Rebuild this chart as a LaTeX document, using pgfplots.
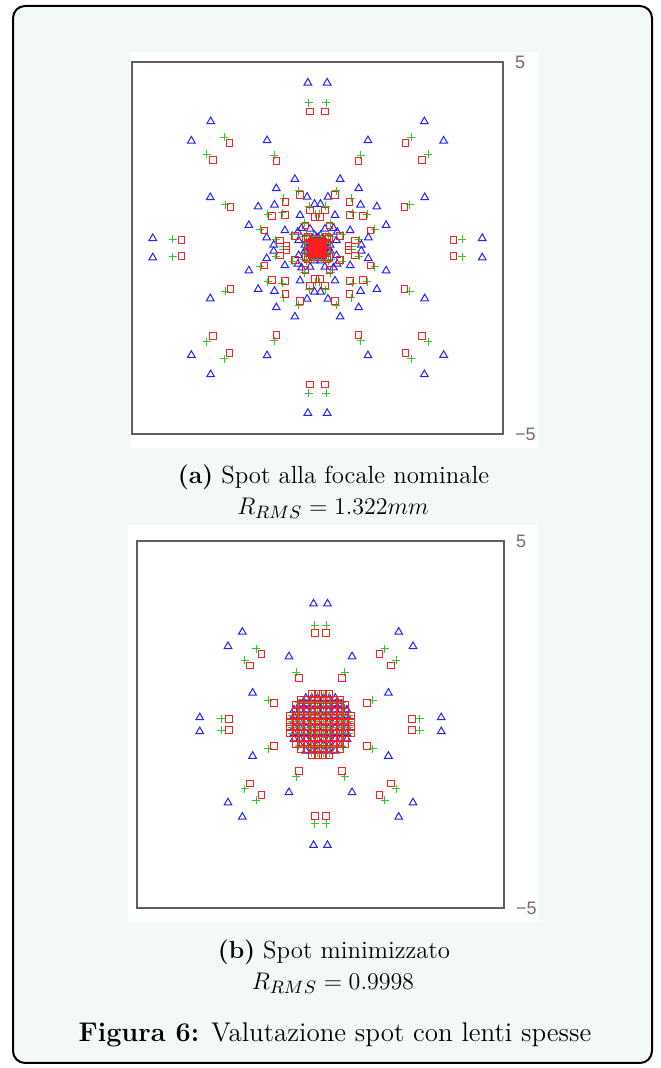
\documentclass[border=0pt]{standalone}
\usepackage{fontspec}
\usepackage{pgfplots}
\pgfplotsset{compat=1.18}
\newfontfamily\ticksf{Liberation Sans}
\definecolor{bgc}{RGB}{243,249,249}
\definecolor{mblue}{RGB}{35,35,255}
\definecolor{mgreen}{RGB}{40,205,40}
\definecolor{mred}{RGB}{255,30,30}
\definecolor{axgray}{RGB}{95,95,95}
\definecolor{tickgray}{RGB}{110,110,110}
\pgfplotsset{
  spot/.style={scale only axis, xmin=-5, xmax=5, ymin=-5, ymax=5,
    xtick=\empty, ytick={-5,5}, yticklabels={−5,5}, yticklabel pos=right,
    major tick length=0pt, axis line style={axgray, line width=0.6pt},
    yticklabel style={font=\ticksf\fontsize{9}{10}\selectfont, text=tickgray, xshift=2.5pt},
    clip=false},
  bl/.style={only marks, mark=triangle, mark size=2.2pt, mark options={mblue, line width=0.5pt}},
  gr/.style={only marks, mark=+, mark size=2.0pt, mark options={mgreen, line width=0.5pt}},
  rd/.style={only marks, mark=square, mark size=1.65pt, mark options={mred, line width=0.5pt}},
  rdf/.style={only marks, mark=square*, mark size=1.65pt, mark options={mred, fill=mred, line width=0.5pt}}
}
\begin{document}
\begin{tikzpicture}
\path[use as bounding box] (0,0) rectangle (330pt,534pt);
\fill[white] (0,0) rectangle (330pt,534pt);
\draw[line width=1pt, rounded corners=6pt, fill=bgc] (6.5pt,2.5pt) rectangle (326pt,531pt);
\fill[white] (65pt,310pt) rectangle (269pt,508pt);
\fill[white] (64pt,73pt) rectangle (269pt,271.5pt);

% ---------------- (a) nominal focus ----------------
\begin{axis}[spot, at={(66pt,317pt)}, anchor=south west, width=185.5pt, height=186pt]
\addplot[bl] coordinates {
(0.26,4.44) (-0.26,4.44) (0.26,-4.44) (-0.26,-4.44) (4.44,0.26) (-4.44,0.26) (4.44,-0.26) (-4.44,-0.26)
(2.88,3.40) (-2.88,3.40) (2.88,-3.40) (-2.88,-3.40) (3.40,2.88) (-3.40,2.88) (3.40,-2.88) (-3.40,-2.88)
(1.36,2.89) (-1.36,2.89) (1.36,-2.89) (-1.36,-2.89) (2.89,1.36) (-2.89,1.36) (2.89,-1.36) (-2.89,-1.36)
(0.61,1.85) (-0.61,1.85) (0.61,-1.85) (-0.61,-1.85) (1.85,0.61) (-1.85,0.61) (1.85,-0.61) (-1.85,-0.61)
(1.11,1.60) (-1.11,1.60) (1.11,-1.60) (-1.11,-1.60) (1.60,1.11) (-1.60,1.11) (1.60,-1.11) (-1.60,-1.11)
(0.28,1.37) (-0.28,1.37) (0.28,-1.37) (-0.28,-1.37) (1.37,0.28) (-1.37,0.28) (1.37,-0.28) (-1.37,-0.28)
(0.08,1.18) (-0.08,1.18) (0.08,-1.18) (-0.08,-1.18) (1.18,0.08) (-1.18,0.08) (1.18,-0.08) (-1.18,-0.08)
(0.47,0.88) (-0.47,0.88) (0.47,-0.88) (-0.47,-0.88) (0.88,0.47) (-0.88,0.47) (0.88,-0.47) (-0.88,-0.47)
(1.16,1.16) (-1.16,1.16) (1.16,-1.16) (-1.16,-1.16)
(0.02,0.28) (-0.02,0.28) (0.02,-0.28) (-0.02,-0.28) (0.28,0.02) (-0.28,0.02) (0.28,-0.02) (-0.28,-0.02)
(0.08,0.34) (-0.08,0.34) (0.08,-0.34) (-0.08,-0.34) (0.34,0.08) (-0.34,0.08) (0.34,-0.08) (-0.34,-0.08)
(0.20,0.51) (-0.20,0.51) (0.20,-0.51) (-0.20,-0.51) (0.51,0.20) (-0.51,0.20) (0.51,-0.20) (-0.51,-0.20)
(0.15,0.23) (-0.15,0.23) (0.15,-0.23) (-0.15,-0.23) (0.23,0.15) (-0.23,0.15) (0.23,-0.15) (-0.23,-0.15)
(0.43,0.53) (-0.43,0.53) (0.43,-0.53) (-0.43,-0.53) (0.53,0.43) (-0.53,0.43) (0.53,-0.43) (-0.53,-0.43)
(0.15,0.15) (-0.15,0.15) (0.15,-0.15) (-0.15,-0.15)
};
\addplot[gr] coordinates {
(0.23,3.90) (-0.23,3.90) (0.23,-3.90) (-0.23,-3.90) (3.90,0.23) (-3.90,0.23) (3.90,-0.23) (-3.90,-0.23)
(2.52,2.98) (-2.52,2.98) (2.52,-2.98) (-2.52,-2.98) (2.98,2.52) (-2.98,2.52) (2.98,-2.52) (-2.98,-2.52)
(1.16,2.49) (-1.16,2.49) (1.16,-2.49) (-1.16,-2.49) (2.49,1.16) (-2.49,1.16) (2.49,-1.16) (-2.49,-1.16)
(0.51,1.54) (-0.51,1.54) (0.51,-1.54) (-0.51,-1.54) (1.54,0.51) (-1.54,0.51) (1.54,-0.51) (-1.54,-0.51)
(0.91,1.34) (-0.91,1.34) (0.91,-1.34) (-0.91,-1.34) (1.34,0.91) (-1.34,0.91) (1.34,-0.91) (-1.34,-0.91)
(0.22,1.12) (-0.22,1.12) (0.22,-1.12) (-0.22,-1.12) (1.12,0.22) (-1.12,0.22) (1.12,-0.22) (-1.12,-0.22)
(0.05,0.92) (-0.05,0.92) (0.05,-0.92) (-0.05,-0.92) (0.92,0.05) (-0.92,0.05) (0.92,-0.05) (-0.92,-0.05)
(0.36,0.67) (-0.36,0.67) (0.36,-0.67) (-0.36,-0.67) (0.67,0.36) (-0.67,0.36) (0.67,-0.36) (-0.67,-0.36)
(0.95,0.95) (-0.95,0.95) (0.95,-0.95) (-0.95,-0.95)
(0.04,0.16) (-0.04,0.16) (0.04,-0.16) (-0.04,-0.16) (0.16,0.04) (-0.16,0.04) (0.16,-0.04) (-0.16,-0.04)
(0.12,0.32) (-0.12,0.32) (0.12,-0.32) (-0.12,-0.32) (0.32,0.12) (-0.32,0.12) (0.32,-0.12) (-0.32,-0.12)
(0.30,0.36) (-0.30,0.36) (0.30,-0.36) (-0.30,-0.36) (0.36,0.30) (-0.36,0.30) (0.36,-0.30) (-0.36,-0.30)
};
\addplot[rd] coordinates {
(0.21,3.67) (-0.21,3.67) (0.21,-3.67) (-0.21,-3.67) (3.67,0.21) (-3.67,0.21) (3.67,-0.21) (-3.67,-0.21)
(2.37,2.82) (-2.37,2.82) (2.37,-2.82) (-2.37,-2.82) (2.82,2.37) (-2.82,2.37) (2.82,-2.37) (-2.82,-2.37)
(1.10,2.34) (-1.10,2.34) (1.10,-2.34) (-1.10,-2.34) (2.34,1.10) (-2.34,1.10) (2.34,-1.10) (-2.34,-1.10)
(0.47,1.43) (-0.47,1.43) (0.47,-1.43) (-0.47,-1.43) (1.43,0.47) (-1.43,0.47) (1.43,-0.47) (-1.43,-0.47)
(0.86,1.23) (-0.86,1.23) (0.86,-1.23) (-0.86,-1.23) (1.23,0.86) (-1.23,0.86) (1.23,-0.86) (-1.23,-0.86)
(0.20,1.01) (-0.20,1.01) (0.20,-1.01) (-0.20,-1.01) (1.01,0.20) (-1.01,0.20) (1.01,-0.20) (-1.01,-0.20)
(0.06,0.84) (-0.06,0.84) (0.06,-0.84) (-0.06,-0.84) (0.84,0.06) (-0.84,0.06) (0.84,-0.06) (-0.84,-0.06)
(0.32,0.60) (-0.32,0.60) (0.32,-0.60) (-0.32,-0.60) (0.60,0.32) (-0.60,0.32) (0.60,-0.32) (-0.60,-0.32)
(0.88,0.88) (-0.88,0.88) (0.88,-0.88) (-0.88,-0.88)
(0.10,0.26) (-0.10,0.26) (0.10,-0.26) (-0.10,-0.26) (0.26,0.10) (-0.26,0.10) (0.26,-0.10) (-0.26,-0.10)
(0.25,0.31) (-0.25,0.31) (0.25,-0.31) (-0.25,-0.31) (0.31,0.25) (-0.31,0.25) (0.31,-0.25) (-0.31,-0.25)
};
\addplot[rdf] coordinates {
(0,0) (0.08,0) (-0.08,0) (0,0.08) (0,-0.08) (0.16,0) (-0.16,0) (0,0.16) (0,-0.16)
(0.08,0.08) (-0.08,0.08) (0.08,-0.08) (-0.08,-0.08)
(0.16,0.08) (-0.16,0.08) (0.16,-0.08) (-0.16,-0.08) (0.08,0.16) (-0.08,0.16) (0.08,-0.16) (-0.08,-0.16)
(0.12,0.12) (-0.12,0.12) (0.12,-0.12) (-0.12,-0.12)
};
\end{axis}

% ---------------- (b) minimised spot ----------------
\begin{axis}[spot, at={(68.5pt,80pt)}, anchor=south west, width=183.5pt, height=183.5pt]
\addplot[bl] coordinates {
(0.19,3.29) (-0.19,3.29) (0.19,-3.29) (-0.19,-3.29) (3.29,0.19) (-3.29,0.19) (3.29,-0.19) (-3.29,-0.19)
(2.13,2.52) (-2.13,2.52) (2.13,-2.52) (-2.13,-2.52) (2.52,2.13) (-2.52,2.13) (2.52,-2.13) (-2.52,-2.13)
(0.86,1.85) (-0.86,1.85) (0.86,-1.85) (-0.86,-1.85) (1.85,0.86) (-1.85,0.86) (1.85,-0.86) (-1.85,-0.86)
(-0.72,0.08) (-0.56,0.08) (-0.40,0.08) (-0.24,0.08) (-0.08,0.08) (0.08,0.08) (0.24,0.08) (0.40,0.08) (0.56,0.08) (0.72,0.08)
(-0.72,-0.08) (-0.56,-0.08) (-0.40,-0.08) (-0.24,-0.08) (-0.08,-0.08) (0.08,-0.08) (0.24,-0.08) (0.40,-0.08) (0.56,-0.08) (0.72,-0.08)
(-0.72,0.24) (-0.56,0.24) (-0.40,0.24) (-0.24,0.24) (-0.08,0.24) (0.08,0.24) (0.24,0.24) (0.40,0.24) (0.56,0.24) (0.72,0.24)
(-0.72,-0.24) (-0.56,-0.24) (-0.40,-0.24) (-0.24,-0.24) (-0.08,-0.24) (0.08,-0.24) (0.24,-0.24) (0.40,-0.24) (0.56,-0.24) (0.72,-0.24)
(-0.72,0.40) (-0.56,0.40) (-0.40,0.40) (-0.24,0.40) (-0.08,0.40) (0.08,0.40) (0.24,0.40) (0.40,0.40) (0.56,0.40) (0.72,0.40)
(-0.72,-0.40) (-0.56,-0.40) (-0.40,-0.40) (-0.24,-0.40) (-0.08,-0.40) (0.08,-0.40) (0.24,-0.40) (0.40,-0.40) (0.56,-0.40) (0.72,-0.40)
(-0.56,0.56) (-0.40,0.56) (-0.24,0.56) (-0.08,0.56) (0.08,0.56) (0.24,0.56) (0.40,0.56) (0.56,0.56)
(-0.56,-0.56) (-0.40,-0.56) (-0.24,-0.56) (-0.08,-0.56) (0.08,-0.56) (0.24,-0.56) (0.40,-0.56) (0.56,-0.56)
(-0.40,0.72) (-0.24,0.72) (-0.08,0.72) (0.08,0.72) (0.24,0.72) (0.40,0.72)
(-0.40,-0.72) (-0.24,-0.72) (-0.08,-0.72) (0.08,-0.72) (0.24,-0.72) (0.40,-0.72)
};
\addplot[gr] coordinates {
(0.16,2.71) (-0.16,2.71) (0.16,-2.71) (-0.16,-2.71) (2.71,0.16) (-2.71,0.16) (2.71,-0.16) (-2.71,-0.16)
(1.75,2.07) (-1.75,2.07) (1.75,-2.07) (-1.75,-2.07) (2.07,1.75) (-2.07,1.75) (2.07,-1.75) (-2.07,-1.75)
(0.66,1.43) (-0.66,1.43) (0.66,-1.43) (-0.66,-1.43) (1.43,0.66) (-1.43,0.66) (1.43,-0.66) (-1.43,-0.66)
(-0.765,0.085) (-0.595,0.085) (-0.425,0.085) (-0.255,0.085) (-0.085,0.085) (0.085,0.085) (0.255,0.085) (0.425,0.085) (0.595,0.085) (0.765,0.085)
(-0.765,-0.085) (-0.595,-0.085) (-0.425,-0.085) (-0.255,-0.085) (-0.085,-0.085) (0.085,-0.085) (0.255,-0.085) (0.425,-0.085) (0.595,-0.085) (0.765,-0.085)
(-0.765,0.255) (-0.595,0.255) (-0.425,0.255) (-0.255,0.255) (-0.085,0.255) (0.085,0.255) (0.255,0.255) (0.425,0.255) (0.595,0.255) (0.765,0.255)
(-0.765,-0.255) (-0.595,-0.255) (-0.425,-0.255) (-0.255,-0.255) (-0.085,-0.255) (0.085,-0.255) (0.255,-0.255) (0.425,-0.255) (0.595,-0.255) (0.765,-0.255)
(-0.595,0.425) (-0.425,0.425) (-0.255,0.425) (-0.085,0.425) (0.085,0.425) (0.255,0.425) (0.425,0.425) (0.595,0.425)
(-0.595,-0.425) (-0.425,-0.425) (-0.255,-0.425) (-0.085,-0.425) (0.085,-0.425) (0.255,-0.425) (0.425,-0.425) (0.595,-0.425)
(-0.595,0.595) (-0.425,0.595) (-0.255,0.595) (-0.085,0.595) (0.085,0.595) (0.255,0.595) (0.425,0.595) (0.595,0.595)
(-0.595,-0.595) (-0.425,-0.595) (-0.255,-0.595) (-0.085,-0.595) (0.085,-0.595) (0.255,-0.595) (0.425,-0.595) (0.595,-0.595)
(-0.255,0.765) (-0.085,0.765) (0.085,0.765) (0.255,0.765)
(-0.255,-0.765) (-0.085,-0.765) (0.085,-0.765) (0.255,-0.765)
};
\addplot[rd] coordinates {
(0.15,2.49) (-0.15,2.49) (0.15,-2.49) (-0.15,-2.49) (2.49,0.15) (-2.49,0.15) (2.49,-0.15) (-2.49,-0.15)
(1.61,1.92) (-1.61,1.92) (1.61,-1.92) (-1.61,-1.92) (1.92,1.61) (-1.92,1.61) (1.92,-1.61) (-1.92,-1.61)
(0.58,1.27) (-0.58,1.27) (0.58,-1.27) (-0.58,-1.27) (1.27,0.58) (-1.27,0.58) (1.27,-0.58) (-1.27,-0.58)
(-0.825,0.075) (-0.675,0.075) (-0.525,0.075) (-0.375,0.075) (-0.225,0.075) (-0.075,0.075) (0.075,0.075) (0.225,0.075) (0.375,0.075) (0.525,0.075) (0.675,0.075) (0.825,0.075)
(-0.825,-0.075) (-0.675,-0.075) (-0.525,-0.075) (-0.375,-0.075) (-0.225,-0.075) (-0.075,-0.075) (0.075,-0.075) (0.225,-0.075) (0.375,-0.075) (0.525,-0.075) (0.675,-0.075) (0.825,-0.075)
(-0.825,0.225) (-0.675,0.225) (-0.525,0.225) (-0.375,0.225) (-0.225,0.225) (-0.075,0.225) (0.075,0.225) (0.225,0.225) (0.375,0.225) (0.525,0.225) (0.675,0.225) (0.825,0.225)
(-0.825,-0.225) (-0.675,-0.225) (-0.525,-0.225) (-0.375,-0.225) (-0.225,-0.225) (-0.075,-0.225) (0.075,-0.225) (0.225,-0.225) (0.375,-0.225) (0.525,-0.225) (0.675,-0.225) (0.825,-0.225)
(-0.675,0.375) (-0.525,0.375) (-0.375,0.375) (-0.225,0.375) (-0.075,0.375) (0.075,0.375) (0.225,0.375) (0.375,0.375) (0.525,0.375) (0.675,0.375)
(-0.675,-0.375) (-0.525,-0.375) (-0.375,-0.375) (-0.225,-0.375) (-0.075,-0.375) (0.075,-0.375) (0.225,-0.375) (0.375,-0.375) (0.525,-0.375) (0.675,-0.375)
(-0.675,0.525) (-0.525,0.525) (-0.375,0.525) (-0.225,0.525) (-0.075,0.525) (0.075,0.525) (0.225,0.525) (0.375,0.525) (0.525,0.525) (0.675,0.525)
(-0.675,-0.525) (-0.525,-0.525) (-0.375,-0.525) (-0.225,-0.525) (-0.075,-0.525) (0.075,-0.525) (0.225,-0.525) (0.375,-0.525) (0.525,-0.525) (0.675,-0.525)
(-0.525,0.675) (-0.375,0.675) (-0.225,0.675) (-0.075,0.675) (0.075,0.675) (0.225,0.675) (0.375,0.675) (0.525,0.675)
(-0.525,-0.675) (-0.375,-0.675) (-0.225,-0.675) (-0.075,-0.675) (0.075,-0.675) (0.225,-0.675) (0.375,-0.675) (0.525,-0.675)
(-0.225,0.825) (-0.075,0.825) (0.075,0.825) (0.225,0.825)
(-0.225,-0.825) (-0.075,-0.825) (0.075,-0.825) (0.225,-0.825)
};
\end{axis}

\node[font=\fontsize{12.4}{15}\selectfont] at (166.75pt,295.5pt) {\textbf{(a)} Spot alla focale nominale};
\node[font=\fontsize{13}{15}\selectfont] at (166.5pt,280pt) {$R_{RMS} = 1.322mm$};
\node[font=\fontsize{12.4}{15}\selectfont] at (167pt,58pt) {\textbf{(b)} Spot minimizzato};
\node[font=\fontsize{13}{15}\selectfont] at (166.5pt,42.5pt) {$R_{RMS} = 0.9998$};
\node[font=\fontsize{13.5}{16}\selectfont] at (167.5pt,16.5pt) {\textbf{Figura 6:} Valutazione spot con lenti spesse};
\end{tikzpicture}
\end{document}
